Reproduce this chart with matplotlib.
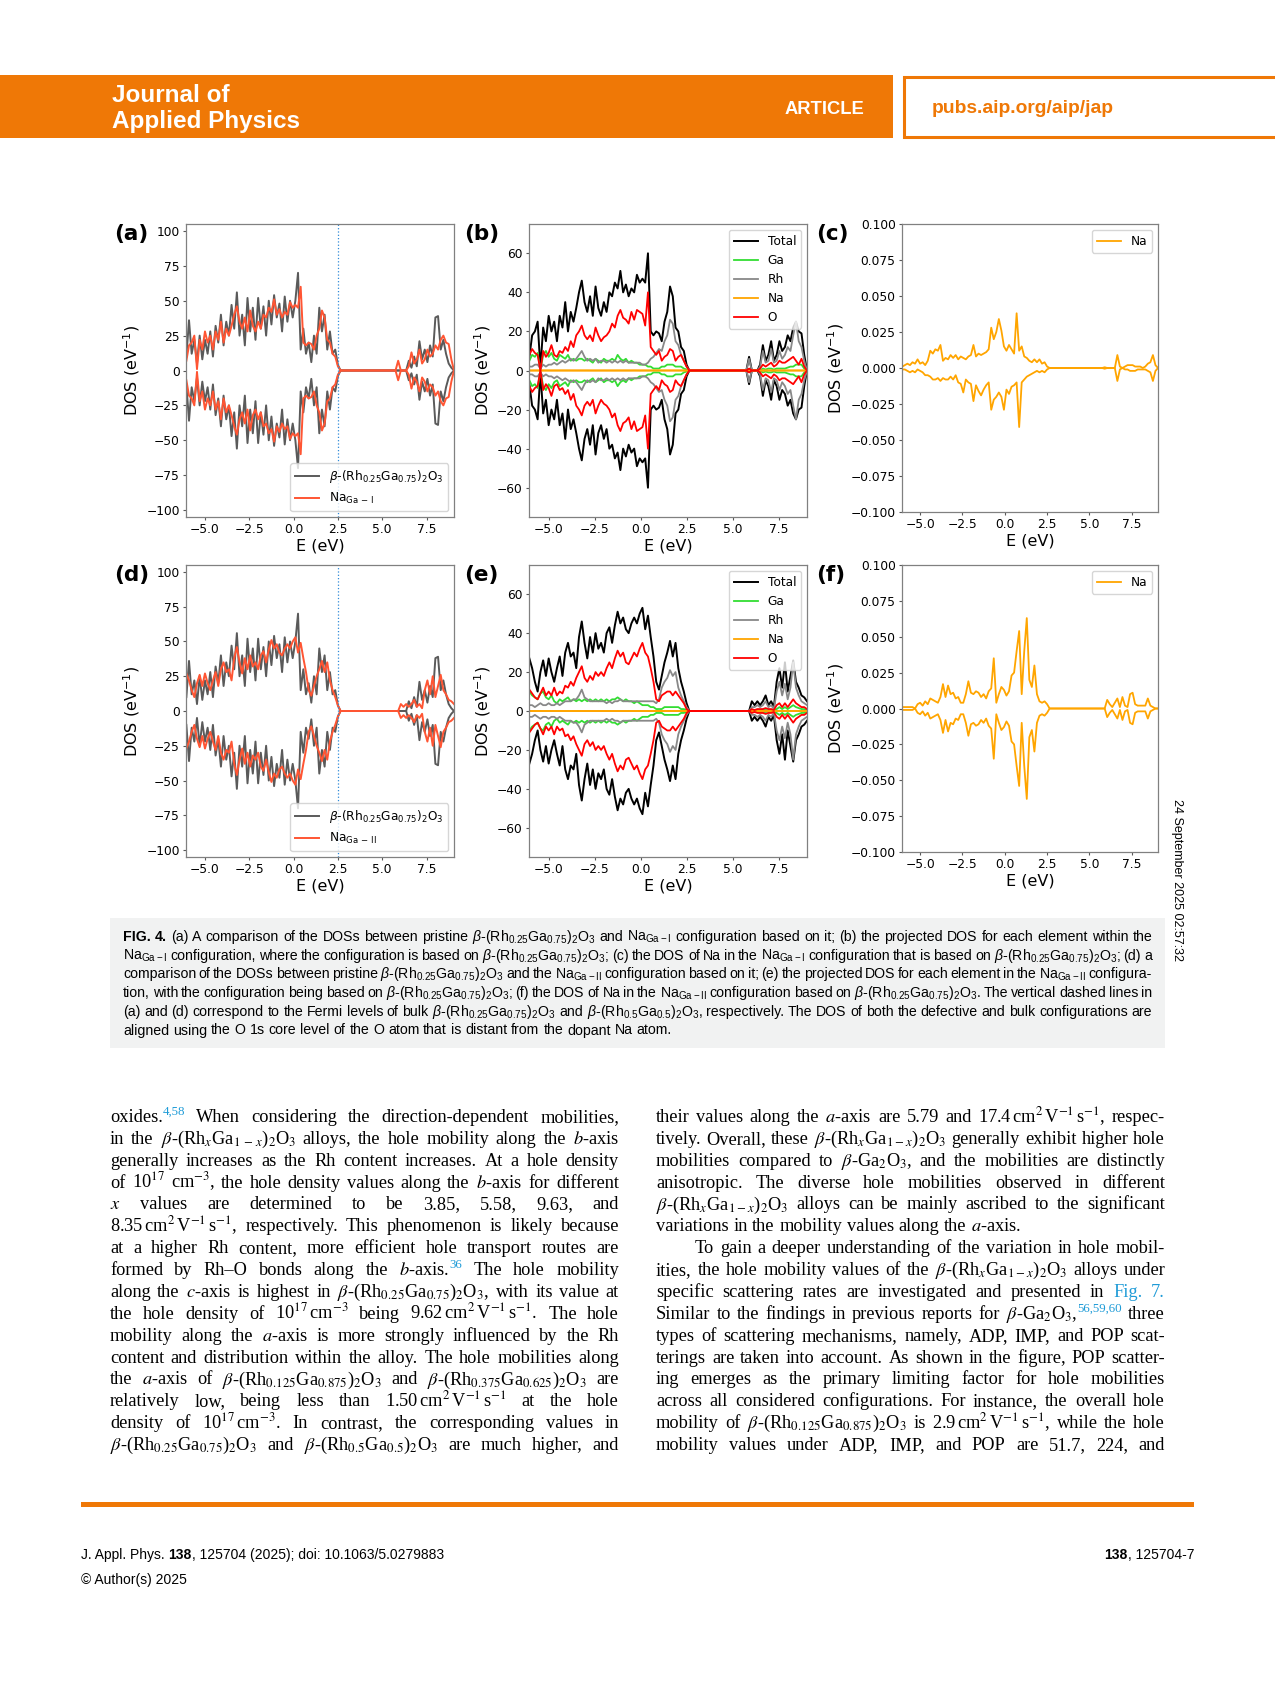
"""Journal page with Fig. 4: spin-resolved DOS of Na-doped beta-(Rh0.25Ga0.75)2O3."""
import re
import matplotlib
matplotlib.use("Agg")
import matplotlib.pyplot as plt
from matplotlib import font_manager as fm
from matplotlib.patches import Rectangle

W, H, DPI = 1275, 1688, 100
ORANGE = "#ef7806"
LINK = "#1e9bd7"

_names = {f.name for f in fm.fontManager.ttflist}
SANS = "Liberation Sans"
NARROW = "Liberation Sans Narrow" if "Liberation Sans Narrow" in _names else SANS
SERIF = "Liberation Serif"
plt.rcParams["mathtext.rm"] = NARROW
plt.rcParams["mathtext.it"] = NARROW + ":italic"
plt.rcParams["mathtext.bf"] = NARROW + ":bold"

# ---------------- DOS data ----------------
E_VB = [-6.05, -5.90, -5.75, -5.60, -5.45, -5.30, -5.15, -5.00, -4.85, -4.70,
        -4.55, -4.40, -4.25, -4.10, -3.95, -3.80, -3.65, -3.50, -3.35, -3.20,
        -3.05, -2.90, -2.75, -2.60, -2.45, -2.30, -2.15, -2.00, -1.85, -1.70,
        -1.55, -1.40, -1.25, -1.10, -0.95, -0.80, -0.65, -0.50, -0.35, -0.20,
        -0.05, 0.10, 0.25, 0.40, 0.55, 0.70, 0.85, 1.00, 1.15, 1.30,
        1.45, 1.60, 1.75, 1.90, 2.05, 2.20, 2.35, 2.50, 2.65]
E_CB = [5.75, 5.90, 6.05, 6.20, 6.35, 6.50, 6.65, 6.80, 6.95, 7.10,
        7.25, 7.40, 7.55, 7.70, 7.85, 8.00, 8.15, 8.30, 8.45, 8.60,
        8.75, 8.90, 9.05]

# pristine beta-(Rh0.25Ga0.75)2O3 total DOS
PRIS_VB = [10, 36, 12, 22, 5, 25, 8, 22, 12, 28,
           10, 32, 20, 40, 18, 35, 25, 47, 30, 56,
           25, 40, 18, 52, 28, 45, 22, 52, 30, 46,
           25, 50, 33, 54, 38, 48, 28, 53, 35, 50,
           38, 50, 70, 15, 30, 12, 20, 6, 25, 12,
           45, 28, 40, 15, 28, 12, 15, 4, 0]
PRIS_CB = [0, 0, 0, 0, 0, 7, 2, 10, 3, 21,
           8, 15, 6, 18, 10, 38, 39, 15, 22, 12,
           5, 2, 0]

# Na_Ga-I configuration: total and projected DOS
TOT1_VB = [7, 18, 20, 25, 1, 22, 15, 28, 20, 25,
           15, 28, 22, 35, 20, 30, 25, 32, 40, 46,
           35, 30, 38, 28, 43, 32, 28, 35, 30, 40,
           38, 45, 42, 51, 40, 44, 38, 42, 40, 49,
           45, 47, 45, 60, 20, 18, 20, 19, 15, 25,
           30, 43, 38, 22, 20, 12, 10, 3, 0]
TOT1_CB = [0, 7, 0, 0, 0, 3, 13, 5, 8, 15,
           5, 8, 15, 10, 12, 18, 15, 22, 25, 20,
           19, 8, 0]
O1_VB = [8, 11, 9, 8, 0, 10, 7, 9, 13, 8,
         7, 10, 9, 12, 10, 15, 12, 18, 20, 23,
         18, 16, 18, 15, 22, 18, 15, 17, 18, 20,
         24, 22, 28, 31, 27, 26, 24, 30, 26, 31,
         30, 29, 23, 40, 12, 10, 8, 10, 5, 7,
         8, 11, 10, 5, 7, 8, 5, 2, 0]
O1_CB = [0, 1, 0, 0, 0, 1, 3, 2, 3, 4,
         2, 3, 5, 4, 4, 5, 6, 7, 5, 3,
         6, 2, 0]
GA1_VB = [5, 8, 7, 9, 0, 8, 10, 7, 9, 6,
          5, 8, 7, 6, 8, 5, 6, 5, 6, 6,
          5, 6, 5, 4, 6, 5, 4, 6, 5, 5,
          6, 5, 8, 6, 5, 6, 4, 5, 4, 4,
          3, 3, 3, 2, 2, 1, 1, 1, 2, 2,
          3, 3, 3, 2, 2, 2, 1, 0.5, 0]
GA1_CB = [0, 0, 0, 0, 0, 0, 1, 0.5, 1, 1,
          0.5, 1, 1, 1, 1, 1.5, 2, 2, 3, 3,
          3, 1, 0]
RH1_VB = [2, 2, 3, 3, 1, 3, 2, 3, 3, 4,
          3, 4, 5, 4, 5, 6, 5, 6, 8, 10,
          7, 5, 6, 5, 6, 4, 5, 5, 4, 5,
          4, 5, 4, 5, 4, 5, 4, 4, 4, 4,
          4, 3, 3, 4, 6, 7, 9, 11, 10, 15,
          18, 26, 24, 15, 13, 8, 5, 2, 0]
RH1_CB = [0, 6, 0, 0, 0, 2, 10, 4, 5, 11,
          4, 5, 10, 6, 8, 12, 10, 18, 25, 15,
          12, 5, 0]
NA1_UP_VB = [0.001, 0.002, 0.003, 0.002, 0.004, 0.003, 0.006, 0.003, 0.004, 0.002,
             0.005, 0.012, 0.010, 0.013, 0.012, 0.016, 0.005, 0.007, 0.006, 0.009,
             0.007, 0.009, 0.006, 0.008, 0.007, 0.006, 0.008, 0.009, 0.016, 0.008,
             0.010, 0.009, 0.010, 0.011, 0.013, 0.028, 0.020, 0.025, 0.034, 0.026,
             0.015, 0.012, 0.016, 0.013, 0.010, 0.038, 0.012, 0.015, 0.008, 0.007,
             0.005, 0.004, 0.006, 0.004, 0.006, 0.003, 0.004, 0.001, 0.0]
NA1_UP_CB = [0, 0.0005, 0, 0, 0, 0, 0.009, 0.001, 0, 0.001,
             0.002, 0.002, 0.002, 0.001, 0.001, 0.001, 0, 0.001, 0.003, 0.004,
             0.009, 0.002, 0]
NA1_DN_VB = [0.001, 0.001, 0.002, 0.003, 0.002, 0.003, 0.001, 0.002, 0.003, 0.005,
             0.005, 0.006, 0.008, 0.008, 0.007, 0.009, 0.007, 0.008, 0.008, 0.006,
             0.008, 0.005, 0.010, 0.011, 0.017, 0.008, 0.010, 0.011, 0.023, 0.012,
             0.016, 0.019, 0.015, 0.012, 0.010, 0.029, 0.022, 0.020, 0.017, 0.020,
             0.029, 0.015, 0.018, 0.013, 0.012, 0.010, 0.041, 0.010, 0.008, 0.006,
             0.005, 0.004, 0.003, 0.002, 0.003, 0.002, 0.003, 0.001, 0.0]
NA1_DN_CB = [0, 0.0005, 0, 0, 0, 0, 0.009, 0.001, 0, 0.001,
             0.001, 0.002, 0.002, 0.002, 0.001, 0.001, 0.001, 0.001, 0.002, 0.003,
             0.009, 0.002, 0]

# Na_Ga-II configuration: total and projected DOS
TOT2_VB = [27, 22, 15, 10, 20, 26, 18, 27, 20, 15,
           22, 28, 18, 30, 35, 28, 30, 22, 38, 46,
           35, 27, 38, 30, 40, 32, 35, 30, 40, 43,
           35, 44, 51, 45, 48, 42, 40, 45, 48, 45,
           50, 53, 42, 49, 38, 28, 15, 11, 18, 25,
           30, 36, 28, 35, 22, 15, 10, 4, 0]
TOT2_CB = [0, 0, 5, 3, 5, 3, 5, 8, 3, 5,
           2, 15, 22, 12, 25, 10, 18, 26, 15, 12,
           8, 7, 5]
O2_VB = [11, 9, 7, 6, 9, 12, 8, 10, 8, 12,
         8, 10, 9, 13, 12, 15, 13, 17, 20, 23,
         17, 15, 18, 16, 20, 18, 20, 18, 22, 25,
         22, 27, 31, 28, 30, 25, 24, 27, 30, 28,
         32, 35, 30, 28, 22, 15, 6, 5, 8, 9,
         10, 10, 8, 10, 8, 6, 4, 1, 0]
O2_CB = [0, 0, 1, 0.5, 1, 1, 1, 1.5, 1, 1,
         0.5, 3, 4, 2, 4, 2, 4, 6, 4, 3,
         2, 2, 1]
GA2_VB = [10, 8, 7, 6, 9, 10, 7, 6, 8, 5,
          4, 6, 5, 6, 7, 5, 6, 5, 6, 5,
          6, 5, 6, 5, 6, 5, 6, 5, 6, 5,
          6, 6, 7, 6, 5, 6, 5, 5, 4, 5,
          4, 3, 3, 3, 2, 2, 1, 1, 1, 2,
          2, 2, 2, 2, 2, 1, 1, 0.5, 0]
GA2_CB = [0, 0, 0.5, 0.3, 0.5, 0.3, 0.5, 0.5, 0.3, 0.5,
          0.2, 1, 2, 1, 2, 1, 2, 3, 2, 1.5,
          1, 1, 0.5]
RH2_VB = [3, 3, 2, 3, 4, 3, 3, 4, 3, 3,
          4, 3, 4, 5, 5, 5, 6, 6, 8, 11,
          7, 6, 5, 5, 5, 5, 5, 5, 4, 5,
          4, 5, 5, 6, 5, 5, 5, 5, 5, 5,
          5, 5, 5, 5, 5, 5, 4, 6, 12, 15,
          17, 21, 18, 20, 12, 8, 5, 2, 0]
RH2_CB = [0, 0, 2, 2, 3, 2, 3, 5, 2, 3,
          1, 10, 15, 8, 14, 6, 12, 25, 12, 8,
          5, 4, 3]
NA2_VB = [0.001, 0.001, 0.001, 0.001, 0.001, 0.0, 0.003, 0.004, 0.002, 0.005,
          0.003, 0.007, 0.006, 0.005, 0.004, 0.008, 0.017, 0.008, 0.016, 0.010,
          0.011, 0.007, 0.008, 0.004, 0.004, 0.010, 0.019, 0.011, 0.010, 0.012,
          0.011, 0.008, 0.010, 0.007, 0.012, 0.014, 0.035, 0.004, 0.010, 0.015,
          0.013, 0.009, 0.012, 0.023, 0.025, 0.040, 0.054, 0.010, 0.040, 0.063,
          0.020, 0.015, 0.030, 0.010, 0.005, 0.004, 0.005, 0.003, 0.0]
NA2_CB = [0, 0, 0.006, 0.003, 0.001, 0.004, 0.007, 0.001, 0.008, 0.002,
          0.001, 0.010, 0.011, 0.003, 0.002, 0.002, 0.002, 0.002, 0.007, 0.002,
          0.001, 0.0, 0]

E_FERMI = 2.53
XTICKS = [-5, -2.5, 0, 2.5, 5, 7.5]
YT_TOTAL = [-100, -75, -50, -25, 0, 25, 50, 75, 100]
YT_PDOS = [-60, -40, -20, 0, 20, 40, 60]
YT_NA = [-0.1, -0.075, -0.05, -0.025, 0, 0.025, 0.05, 0.075, 0.1]

LBL_PRIS = r"$\beta$-(Rh$_{0.25}$Ga$_{0.75}$)$_2$O$_3$"
LBL_NA1 = r"Na$_{\mathrm{Ga\,-\,I}}$"
LBL_NA2 = r"Na$_{\mathrm{Ga\,-\,II}}$"

# ---------------- page text ----------------
CAPTION = [
    r"*FIG. *4. (a) A comparison of the DOSs between pristine $\beta$-(Rh$_{0.25}$Ga$_{0.75}$)$_2$O$_3$ and Na$_{\mathrm{Ga-I}}$ configuration based on it; (b) the projected DOS for each element within the",
    r"Na$_{\mathrm{Ga-I}}$ configuration, where the configuration is based on $\beta$-(Rh$_{0.25}$Ga$_{0.75}$)$_2$O$_3$; (c) the DOS of Na in the Na$_{\mathrm{Ga-I}}$ configuration that is based on $\beta$-(Rh$_{0.25}$Ga$_{0.75}$)$_2$O$_3$; (d) a",
    r"comparison of the DOSs between pristine $\beta$-(Rh$_{0.25}$Ga$_{0.75}$)$_2$O$_3$ and the Na$_{\mathrm{Ga-II}}$ configuration based on it; (e) the projected DOS for each element in the Na$_{\mathrm{Ga-II}}$ configura-",
    r"tion, with the configuration being based on $\beta$-(Rh$_{0.25}$Ga$_{0.75}$)$_2$O$_3$; (f) the DOS of Na in the Na$_{\mathrm{Ga-II}}$ configuration based on $\beta$-(Rh$_{0.25}$Ga$_{0.75}$)$_2$O$_3$. The vertical dashed lines in",
    r"(a) and (d) correspond to the Fermi levels of bulk $\beta$-(Rh$_{0.25}$Ga$_{0.75}$)$_2$O$_3$ and $\beta$-(Rh$_{0.5}$Ga$_{0.5}$)$_2$O$_3$, respectively. The DOS of both the defective and bulk configurations are",
    r"aligned using the O 1s core level of the O atom that is distant from the dopant Na atom.",
]
UNIT = r"cm$^{2}\,$V$^{-1}\,$s$^{-1}$"
BODY_LEFT = [
    r"oxides.^[4,58] When considering the direction-dependent mobilities,",
    r"in the $\beta$-(Rh$_x$Ga$_{1\,-\,x}$)$_2$O$_3$ alloys, the hole mobility along the $b$-axis",
    r"generally increases as the Rh content increases. At a hole density",
    r"of 10$^{17}$ cm$^{-3}$, the hole density values along the $b$-axis for different",
    r"$x$ values are determined to be 3.85, 5.58, 9.63, and",
    r"8.35$\,$" + UNIT + r", respectively. This phenomenon is likely because",
    r"at a higher Rh content, more efficient hole transport routes are",
    r"formed by Rh–O bonds along the $b$-axis.^[36] The hole mobility",
    r"along the $c$-axis is highest in $\beta$-(Rh$_{0.25}$Ga$_{0.75}$)$_2$O$_3$, with its value at",
    r"the hole density of 10$^{17}\,$cm$^{-3}$ being 9.62$\,$" + UNIT + r". The hole",
    r"mobility along the $a$-axis is more strongly influenced by the Rh",
    r"content and distribution within the alloy. The hole mobilities along",
    r"the $a$-axis of $\beta$-(Rh$_{0.125}$Ga$_{0.875}$)$_2$O$_3$ and $\beta$-(Rh$_{0.375}$Ga$_{0.625}$)$_2$O$_3$ are",
    r"relatively low, being less than 1.50$\,$" + UNIT + r" at the hole",
    r"density of 10$^{17}\,$cm$^{-3}$. In contrast, the corresponding values in",
    r"$\beta$-(Rh$_{0.25}$Ga$_{0.75}$)$_2$O$_3$ and $\beta$-(Rh$_{0.5}$Ga$_{0.5}$)$_2$O$_3$ are much higher, and",
]
BODY_RIGHT = [
    r"their values along the $a$-axis are 5.79 and 17.4$\,$" + UNIT + r", respec-",
    r"tively. Overall, these $\beta$-(Rh$_x$Ga$_{1-x}$)$_2$O$_3$ generally exhibit higher hole",
    r"mobilities compared to $\beta$-Ga$_2$O$_3$, and the mobilities are distinctly",
    r"anisotropic. The diverse hole mobilities observed in different",
    r"$\beta$-(Rh$_x$Ga$_{1-x}$)$_2$O$_3$ alloys can be mainly ascribed to the significant",
    r"variations in the mobility values along the $a$-axis.",
    r"To gain a deeper understanding of the variation in hole mobil-",
    r"ities, the hole mobility values of the $\beta$-(Rh$_x$Ga$_{1-x}$)$_2$O$_3$ alloys under",
    r"specific scattering rates are investigated and presented in #Fig. #7.",
    r"Similar to the findings in previous reports for $\beta$-Ga$_2$O$_3$,^[56,59,60] three",
    r"types of scattering mechanisms, namely, ADP, IMP, and POP scat-",
    r"terings are taken into account. As shown in the figure, POP scatter-",
    r"ing emerges as the primary limiting factor for hole mobilities",
    r"across all considered configurations. For instance, the overall hole",
    r"mobility of $\beta$-(Rh$_{0.125}$Ga$_{0.875}$)$_2$O$_3$ is 2.9$\,$" + UNIT + r", while the hole",
    r"mobility values under ADP, IMP, and POP are 51.7, 224, and",
]

fig = plt.figure(figsize=(W / DPI, H / DPI), dpi=DPI)
bg = fig.add_axes([0, 0, 1, 1])
bg.set_xlim(0, W)
bg.set_ylim(H, 0)
bg.axis("off")
R = fig.canvas.get_renderer()


def width(t):
    return t.get_window_extent(renderer=R).width


def parse(tok):
    kw = {}
    if tok.startswith("*"):
        tok, kw = tok[1:], {"fontweight": "bold"}
    elif tok.startswith("#"):
        tok, kw = tok[1:], {"color": LINK}
    out = []
    for i, p in enumerate(re.split(r"\^\[([^\]]*)\]", tok)):
        if p:
            out.append((p, {"color": LINK} if i % 2 else kw, bool(i % 2)))
    return out


def text_block(lines, x0, x1, y0, dy, size, family, mfam, space_em,
               last=(), indent=None):
    """Justified lines: words are placed one by one; a line that would not fit
    with ~0.7 of a normal space is set a little smaller."""
    indent = indent or {}
    pt = DPI / 72

    def make(toks, s, y):
        placed = []
        for k in toks:
            arts = []
            for p, kw, sup in parse(k):
                t = bg.text(0, y - (0.38 * s * pt if sup else 0), p,
                            fontsize=s * (0.7 if sup else 1), family=family,
                            math_fontfamily=mfam, va="baseline", ha="left", **kw)
                arts.append((t, width(t)))
            placed.append(arts)
        return placed

    for i, line in enumerate(lines):
        y = y0 + i * dy
        toks = line.split(" ")
        n = len(toks)
        avail = x1 - x0 - indent.get(i, 0)
        s = size
        placed = make(toks, s, y)
        used = sum(w for a in placed for _, w in a)
        need = used + (n - 1) * 0.7 * space_em * s * pt
        if need > avail:
            for a in placed:
                for t, _ in a:
                    t.remove()
            s = size * avail / need
            placed = make(toks, s, y)
            used = sum(w for a in placed for _, w in a)
        gap = (avail - used) / (n - 1) if (i not in last and n > 1) else space_em * s * pt
        x = x0 + indent.get(i, 0)
        for arts in placed:
            for t, w in arts:
                t.set_x(x)
                x += w
            x += gap


def seg_line(segs, x, y, size, family, color="black", ha="left"):
    arts = [bg.text(0, y, s, fontsize=size, family=family, fontweight=w,
                    color=color, va="baseline", ha="left") for s, w in segs]
    ws = [width(a) for a in arts]
    x = x - sum(ws) if ha == "right" else x
    for a, w in zip(arts, ws):
        a.set_x(x)
        x += w


def fit(segs, family, target):
    arts = [bg.text(0, 0, s, fontsize=10, family=family, fontweight=w) for s, w in segs]
    tot = sum(width(a) for a in arts)
    for a in arts:
        a.remove()
    return 10 * target / tot


# ---------------- header ----------------
bg.add_patch(Rectangle((0, 75), 893, 63, color=ORANGE, lw=0))
bg.add_patch(Rectangle((903.5, 76.5), 400, 60, facecolor="white",
                       edgecolor=ORANGE, lw=2.2))
hs = fit([("Applied Physics", "bold")], SANS, 188)
bg.text(112, 102, "Journal of", fontsize=hs, family=SANS, fontweight="bold",
        color="white", va="baseline")
bg.text(112, 128, "Applied Physics", fontsize=hs, family=SANS, fontweight="bold",
        color="white", va="baseline")
bg.text(824, 114, "ARTICLE", fontsize=fit([("ARTICLE", "bold")], SANS, 79),
        family=SANS, fontweight="bold", color="white", va="baseline", ha="center")
bg.text(932, 113, "pubs.aip.org/aip/jap",
        fontsize=fit([("pubs.aip.org/aip/jap", "bold")], SANS, 182),
        family=SANS, fontweight="bold", color=ORANGE, va="baseline")


# ---------------- DOS panels ----------------
def panel(l, t, r, b):
    return fig.add_axes([l / W, 1 - b / H, (r - l) / W, (b - t) / H])


def dress(ax, ylim, yticks):
    ax.set_xlim(-6.07, 9.05)
    ax.set_ylim(*ylim)
    ax.set_xticks(XTICKS)
    ax.set_yticks(yticks)
    ax.tick_params(labelsize=8.8, length=2.5, width=0.8, pad=2, color="0.35")
    for s in ax.spines.values():
        s.set_color("0.5")
        s.set_linewidth(0.9)
    ax.set_xlabel("E (eV)", fontsize=11.5, labelpad=1.5)
    ax.set_ylabel(r"DOS (eV$^{-1}$)", fontsize=11.5, labelpad=3)


def curve(ax, vb, cb, color, label=None, dvb=None, dcb=None, lw=1.3):
    e = E_VB + E_CB
    up = vb + cb
    dn = (dvb + dcb) if dvb is not None else up
    ax.plot(e, up, color=color, lw=lw, label=label)
    ax.plot(e, [-v for v in dn], color=color, lw=lw)


TOT_C, NA_C = "#5a5a5a", "#ff5533"
PD_COLORS = {"Total": "black", "Ga": "#33dd33", "Rh": "#888888", "Na": "#ffa500", "O": "red"}

rows = [
    (224, 517, 512, TOT1_VB, TOT1_CB, LBL_NA1, O1_VB, O1_CB, GA1_VB, GA1_CB, RH1_VB, RH1_CB,
     NA1_UP_VB, NA1_UP_CB, NA1_DN_VB, NA1_DN_CB, "abc"),
    (565, 857, 852, TOT2_VB, TOT2_CB, LBL_NA2, O2_VB, O2_CB, GA2_VB, GA2_CB, RH2_VB, RH2_CB,
     NA2_VB, NA2_CB, None, None, "def"),
]
for (top, bot, botc, tv, tc, lbl, ov, oc, gv, gc, rv, rc,
     nuv, nuc, ndv, ndc, letters) in rows:
    ax = panel(186, top, 454, bot)
    curve(ax, PRIS_VB, PRIS_CB, TOT_C, LBL_PRIS, lw=1.4)
    curve(ax, tv, tc, NA_C, lbl, lw=1.4)
    ax.axvline(E_FERMI, color="#2f8ad8", ls=":", lw=0.9)
    dress(ax, (-105, 105), YT_TOTAL)
    ax.legend(loc="lower right", fontsize=8.7)

    ax = panel(529, top, 807, bot)
    curve(ax, tv, tc, PD_COLORS["Total"], "Total", lw=1.4)
    curve(ax, gv, gc, PD_COLORS["Ga"], "Ga")
    curve(ax, rv, rc, PD_COLORS["Rh"], "Rh")
    curve(ax, nuv, nuc, PD_COLORS["Na"], "Na", ndv, ndc)
    curve(ax, ov, oc, PD_COLORS["O"], "O")
    dress(ax, (-75, 75), YT_PDOS)
    ax.legend(loc="upper right", fontsize=8.7)

    ax = panel(902, top, 1158, botc)
    curve(ax, nuv, nuc, PD_COLORS["Na"], "Na", ndv, ndc)
    dress(ax, (-0.1, 0.1), YT_NA)
    ax.legend(loc="upper right", fontsize=8.7)

    for x, ch in zip((114, 464, 816), letters):
        bg.text(x, top + 10, f"({ch})", fontsize=15.5, fontweight="bold",
                va="center", ha="left")

# ---------------- caption ----------------
bg.add_patch(Rectangle((110, 918), 1055, 130, color="#f1f2f2", lw=0))
if NARROW != SANS:
    text_block(CAPTION, 123, 1152, 941, 18.7, 10.8, NARROW, "custom", 0.228, last={5})
else:
    text_block(CAPTION, 123, 1152, 941, 18.7, 10.2, SANS, "custom", 0.278, last={5})

# time stamp at the right margin
ds = fit([("24 September 2025 02:57:32", "normal")], SANS, 163)
bg.text(1177, 880, "24 September 2025 02:57:32", fontsize=ds, family=SANS,
        rotation=270, va="center", ha="center")

# ---------------- body text ----------------
text_block(BODY_LEFT, 110, 619, 1122, 21.87, 13.2, SERIF, "stix", 0.25)
text_block(BODY_RIGHT, 656, 1165, 1122, 21.87, 13.2, SERIF, "stix", 0.25,
           last={5}, indent={6: 39})

# ---------------- footer ----------------
bg.add_patch(Rectangle((81, 1502), 1113, 4.5, color=ORANGE, lw=0))
foot = [("J. Appl. Phys. ", "normal"), ("138", "bold"),
        (", 125704 (2025); doi: 10.1063/5.0279883", "normal")]
fs = fit(foot, NARROW, 364)
seg_line(foot, 81, 1559, fs, NARROW)
seg_line([("© Author(s) 2025", "normal")], 81, 1584, fs, NARROW)
seg_line([("138", "bold"), (", 125704-7", "normal")], 1194, 1559, fs, NARROW, ha="right")

fig.savefig("out.png", dpi=DPI)
print("saved out.png")
